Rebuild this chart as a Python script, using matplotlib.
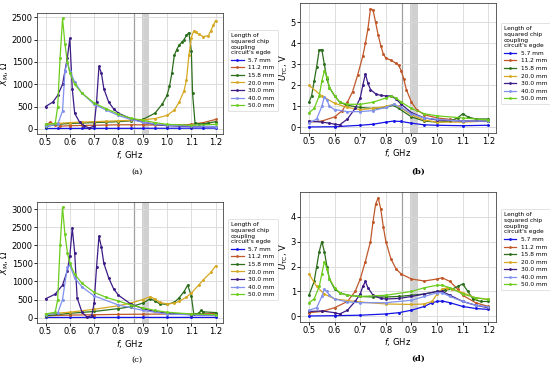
import matplotlib
matplotlib.use("Agg")
import matplotlib.pyplot as plt

# legend labels and colours
LABELS = ["5.7 mm", "11.2 mm", "15.8 mm", "20.0 mm", "30.0 mm", "40.0 mm", "50.0 mm"]
COLORS = ["#1414e6", "#c0582a", "#2c6e1c", "#d6a822", "#3c1c86", "#8090ee", "#6ccc1e"]
XTICKS = [0.5, 0.6, 0.7, 0.8, 0.9, 1.0, 1.1, 1.2]

# ---- panel (a): X_M, Ohm ----  (f in GHz, value)
A_57 = [(0.50, 8), (0.55, 8), (0.60, 9), (0.65, 9), (0.70, 10), (0.75, 10), (0.80, 10), (0.85, 11),
        (0.90, 11), (0.95, 12), (1.00, 12), (1.05, 13), (1.10, 14), (1.15, 15), (1.20, 16)]
A_112 = [(0.50, 80), (0.52, 150), (0.54, 80), (0.56, 60), (0.60, 70), (0.65, 75), (0.70, 80), (0.75, 85),
         (0.80, 90), (0.85, 90), (0.90, 90), (0.95, 85), (1.00, 80), (1.05, 85), (1.10, 100), (1.15, 140),
         (1.20, 210)]
A_158 = [(0.50, 50), (0.55, 100), (0.60, 120), (0.65, 130), (0.70, 140), (0.75, 150), (0.80, 160),
         (0.85, 180), (0.90, 210), (0.95, 350), (0.98, 550), (1.00, 750), (1.01, 950), (1.02, 1250),
         (1.03, 1650), (1.04, 1780), (1.05, 1880), (1.06, 1940), (1.07, 2000), (1.08, 2100), (1.09, 2160),
         (1.10, 1750), (1.105, 800), (1.115, 140), (1.13, 110), (1.15, 110), (1.17, 130), (1.20, 160)]
A_200 = [(0.50, 100), (0.55, 120), (0.60, 140), (0.65, 150), (0.70, 160), (0.75, 170), (0.80, 180),
         (0.85, 190), (0.90, 200), (0.95, 230), (1.00, 300), (1.03, 420), (1.05, 600), (1.07, 850),
         (1.08, 1100), (1.09, 1650), (1.10, 2050), (1.11, 2200), (1.12, 2180), (1.13, 2120), (1.15, 2070),
         (1.17, 2090), (1.18, 2200), (1.19, 2320), (1.20, 2430)]
A_300 = [(0.50, 500), (0.53, 600), (0.55, 750), (0.57, 1000), (0.58, 1300), (0.59, 1600), (0.60, 2030),
         (0.61, 900), (0.62, 350), (0.64, 150), (0.66, 60), (0.68, 20), (0.70, 60), (0.71, 600),
         (0.72, 1400), (0.73, 1250), (0.74, 900), (0.76, 600), (0.78, 450), (0.80, 350), (0.85, 230),
         (0.90, 150), (0.95, 100), (1.00, 70), (1.10, 50), (1.20, 50)]
A_400 = [(0.50, 60), (0.55, 100), (0.57, 400), (0.58, 1300), (0.59, 1500), (0.60, 1300), (0.62, 1050),
         (0.65, 800), (0.70, 550), (0.75, 420), (0.80, 300), (0.85, 210), (0.90, 150), (0.95, 110),
         (1.00, 80), (1.10, 60), (1.20, 50)]
A_500 = [(0.50, 100), (0.54, 120), (0.55, 500), (0.56, 1600), (0.57, 2480), (0.58, 1900), (0.59, 1500),
         (0.60, 1250), (0.62, 1000), (0.65, 800), (0.70, 580), (0.75, 450), (0.80, 330), (0.85, 240),
         (0.90, 190), (0.95, 140), (1.00, 100), (1.10, 80), (1.20, 100)]

# ---- panel (b): U_TC, V ----
B_57 = [(0.50, 0.02), (0.60, 0.03), (0.70, 0.10), (0.75, 0.15), (0.80, 0.25), (0.83, 0.30), (0.86, 0.28),
        (0.90, 0.20), (0.95, 0.12), (1.00, 0.10), (1.10, 0.08), (1.20, 0.10)]
B_112 = [(0.50, 0.25), (0.55, 0.30), (0.60, 0.50), (0.63, 0.80), (0.65, 1.20), (0.67, 1.70), (0.69, 2.50),
         (0.71, 3.40), (0.72, 4.00), (0.73, 4.70), (0.74, 5.65), (0.75, 5.60), (0.76, 5.00), (0.77, 4.40),
         (0.78, 3.90), (0.79, 3.50), (0.80, 3.30), (0.82, 3.20), (0.84, 3.05), (0.85, 2.95), (0.86, 2.70),
         (0.87, 2.30), (0.88, 1.80), (0.90, 1.20), (0.92, 0.85), (0.95, 0.60), (1.00, 0.45), (1.05, 0.38),
         (1.10, 0.30), (1.20, 0.28)]
B_158 = [(0.50, 1.20), (0.51, 1.50), (0.52, 2.20), (0.53, 2.90), (0.54, 3.70), (0.55, 3.70), (0.56, 3.00),
         (0.57, 2.30), (0.58, 1.90), (0.60, 1.50), (0.62, 1.20), (0.65, 1.05), (0.70, 0.95), (0.75, 0.90),
         (0.80, 0.95), (0.83, 1.05), (0.85, 0.90), (0.90, 0.50), (0.95, 0.30), (1.00, 0.25), (1.05, 0.30),
         (1.08, 0.45), (1.10, 0.65), (1.12, 0.50), (1.15, 0.40), (1.20, 0.40)]
B_200 = [(0.50, 2.00), (0.55, 1.50), (0.60, 1.15), (0.65, 0.95), (0.70, 0.85), (0.75, 0.90), (0.80, 1.00),
         (0.83, 1.10), (0.85, 1.00), (0.90, 0.60), (0.95, 0.35), (1.00, 0.25), (1.10, 0.25), (1.20, 0.30)]
B_300 = [(0.50, 0.30), (0.55, 0.25), (0.58, 0.20), (0.60, 0.15), (0.62, 0.12), (0.65, 0.40), (0.68, 0.90),
         (0.70, 1.40), (0.71, 2.00), (0.72, 2.55), (0.73, 2.10), (0.74, 1.80), (0.76, 1.60), (0.78, 1.52),
         (0.80, 1.50), (0.82, 1.50), (0.84, 1.35), (0.86, 1.10), (0.90, 0.70), (0.95, 0.45), (1.00, 0.35),
         (1.10, 0.30), (1.20, 0.30)]
B_400 = [(0.50, 0.20), (0.53, 0.40), (0.55, 1.00), (0.56, 1.45), (0.57, 1.30), (0.58, 1.00), (0.60, 0.85),
         (0.65, 0.75), (0.70, 0.75), (0.75, 0.80), (0.80, 0.95), (0.83, 1.10), (0.86, 0.95), (0.90, 0.65),
         (0.95, 0.45), (1.00, 0.38), (1.10, 0.30), (1.20, 0.30)]
B_500 = [(0.50, 0.70), (0.52, 0.90), (0.54, 1.50), (0.55, 2.20), (0.56, 2.70), (0.57, 2.40), (0.58, 1.90),
         (0.60, 1.50), (0.62, 1.20), (0.65, 1.10), (0.70, 1.10), (0.75, 1.20), (0.80, 1.40), (0.82, 1.50),
         (0.84, 1.40), (0.86, 1.20), (0.90, 0.90), (0.95, 0.65), (1.00, 0.55), (1.10, 0.45), (1.20, 0.35)]

# ---- panel (c): X_M, Ohm ----
C_57 = [(0.50, 5), (0.60, 5), (0.70, 5), (0.80, 6), (0.90, 6), (1.00, 6), (1.10, 7), (1.20, 7)]
C_112 = [(0.50, 50), (0.60, 70), (0.70, 80), (0.80, 90), (0.90, 95), (1.00, 100), (1.10, 105), (1.20, 110)]
C_158 = [(0.50, 50), (0.60, 120), (0.70, 170), (0.80, 250), (0.85, 300), (0.90, 400), (0.93, 520),
         (0.95, 470), (0.97, 380), (1.00, 370), (1.03, 420), (1.05, 550), (1.07, 720), (1.085, 900),
         (1.10, 600), (1.11, 100), (1.13, 120), (1.14, 200), (1.15, 160), (1.20, 140)]
C_200 = [(0.50, 100), (0.60, 150), (0.70, 230), (0.80, 330), (0.85, 400), (0.90, 500), (0.93, 580),
         (0.95, 520), (0.97, 420), (1.00, 380), (1.03, 400), (1.05, 450), (1.08, 570), (1.10, 680),
         (1.13, 900), (1.15, 1050), (1.18, 1250), (1.20, 1430)]
C_300 = [(0.50, 520), (0.54, 650), (0.57, 900), (0.59, 1300), (0.60, 1700), (0.61, 2480), (0.62, 1800),
         (0.63, 550), (0.65, 150), (0.67, 20), (0.69, 50), (0.70, 400), (0.71, 1400), (0.72, 2250),
         (0.73, 1950), (0.74, 1500), (0.76, 1100), (0.78, 800), (0.80, 620), (0.85, 380), (0.90, 250),
         (0.95, 170), (1.00, 120), (1.10, 80), (1.20, 60)]
C_400 = [(0.50, 80), (0.55, 120), (0.57, 500), (0.59, 1400), (0.60, 1450), (0.62, 1100), (0.65, 850),
         (0.70, 600), (0.80, 350), (0.90, 200), (1.00, 100), (1.20, 60)]
C_500 = [(0.50, 100), (0.54, 150), (0.55, 500), (0.56, 2000), (0.57, 3050), (0.58, 2300), (0.59, 1800),
         (0.60, 1500), (0.62, 1200), (0.65, 950), (0.70, 700), (0.75, 560), (0.80, 460), (0.85, 350),
         (0.90, 270), (0.95, 200), (1.00, 150), (1.10, 100), (1.20, 80)]

# ---- panel (d): U_TC, V ----
D_57 = [(0.50, 0.02), (0.60, 0.03), (0.70, 0.05), (0.80, 0.10), (0.85, 0.15), (0.90, 0.25), (0.95, 0.40),
        (0.98, 0.55), (1.00, 0.60), (1.02, 0.62), (1.05, 0.55), (1.10, 0.40), (1.15, 0.32), (1.20, 0.28)]
D_112 = [(0.50, 0.15), (0.55, 0.20), (0.60, 0.35), (0.65, 0.60), (0.68, 1.00), (0.70, 1.50), (0.72, 2.20),
         (0.74, 3.00), (0.75, 3.80), (0.76, 4.50), (0.77, 4.75), (0.78, 4.30), (0.79, 3.60), (0.80, 3.00),
         (0.82, 2.30), (0.84, 1.90), (0.86, 1.70), (0.90, 1.50), (0.95, 1.42), (1.00, 1.50), (1.02, 1.55),
         (1.05, 1.40), (1.08, 1.10), (1.10, 0.85), (1.15, 0.55), (1.20, 0.40)]
D_158 = [(0.50, 0.85), (0.52, 1.40), (0.53, 2.00), (0.54, 2.60), (0.55, 3.00), (0.56, 2.60), (0.57, 2.00),
         (0.58, 1.50), (0.60, 1.10), (0.62, 0.95), (0.65, 0.85), (0.70, 0.80), (0.75, 0.78), (0.80, 0.78),
         (0.85, 0.80), (0.90, 0.85), (0.95, 0.90), (1.00, 1.00), (1.03, 1.05), (1.06, 1.10), (1.08, 1.20),
         (1.10, 1.30), (1.12, 1.00), (1.14, 0.70), (1.17, 0.60), (1.20, 0.60)]
D_200 = [(0.50, 1.70), (0.53, 1.20), (0.56, 0.90), (0.60, 0.70), (0.70, 0.58), (0.80, 0.50), (0.90, 0.48),
         (0.95, 0.50), (0.98, 0.60), (1.00, 0.90), (1.02, 1.10), (1.04, 1.15), (1.06, 1.10), (1.10, 0.95),
         (1.15, 0.75), (1.20, 0.68)]
D_300 = [(0.50, 0.20), (0.55, 0.22), (0.60, 0.15), (0.62, 0.10), (0.65, 0.25), (0.68, 0.60), (0.70, 0.90),
         (0.71, 1.20), (0.72, 1.40), (0.73, 1.15), (0.75, 0.85), (0.78, 0.72), (0.80, 0.70), (0.85, 0.72),
         (0.90, 0.80), (0.95, 0.90), (1.00, 1.00), (1.02, 1.00), (1.05, 0.85), (1.10, 0.60), (1.15, 0.45),
         (1.20, 0.35)]
D_400 = [(0.50, 0.25), (0.53, 0.35), (0.55, 0.80), (0.56, 1.10), (0.57, 1.00), (0.58, 0.85), (0.60, 0.70),
         (0.65, 0.58), (0.70, 0.55), (0.80, 0.55), (0.90, 0.65), (0.95, 0.80), (1.00, 0.95), (1.02, 0.95),
         (1.05, 0.80), (1.10, 0.60), (1.15, 0.45), (1.20, 0.38)]
D_500 = [(0.50, 0.55), (0.52, 0.70), (0.54, 1.20), (0.55, 1.70), (0.56, 2.20), (0.57, 1.90), (0.58, 1.50),
         (0.60, 1.15), (0.62, 0.95), (0.65, 0.85), (0.70, 0.80), (0.80, 0.85), (0.90, 1.00), (0.95, 1.15),
         (1.00, 1.25), (1.02, 1.25), (1.05, 1.15), (1.10, 0.90), (1.15, 0.75), (1.20, 0.68)]

XM_LABEL = r"$X_\mathrm{M}$, Ω"
U_LABEL = r"$U_\mathrm{TC}$, V"
LEGEND_TITLE = "Length of\nsquared chip\ncoupling\ncircuit's egde"


def draw_panel(ax, series, ylabel, yticks):
    ax.axvline(0.863, color="#a0a0a0", lw=0.9, zorder=1)
    ax.axvspan(0.896, 0.924, color="#d0d0d0", lw=0, zorder=1)
    for pts, lab, col in zip(series, LABELS, COLORS):
        f = [p[0] for p in pts]
        v = [p[1] for p in pts]
        ax.plot(f, v, color=col, lw=0.9, marker=".", ms=2.2, label=lab, zorder=3)
    ax.set_xticks(XTICKS)
    ax.set_yticks(yticks)
    ax.set_xlim(0.465, 1.23)
    ax.grid(True, color="#d8d8d8", lw=0.6)
    ax.tick_params(labelsize=6, length=2, width=0.6, pad=1)
    ax.set_xlabel(r"$f$, GHz", fontsize=6, labelpad=1)
    ax.set_ylabel(ylabel, fontsize=6, labelpad=0.5)
    for s in ax.spines.values():
        s.set_linewidth(0.6)
        s.set_color("#444444")


fig = plt.figure(figsize=(5.5, 3.67), dpi=100)

ax_a = fig.add_axes([0.0673, 0.635, 0.338, 0.33])
ax_b = fig.add_axes([0.5455, 0.638, 0.3564, 0.354])
ax_c = fig.add_axes([0.0673, 0.12, 0.338, 0.33])
ax_d = fig.add_axes([0.5455, 0.123, 0.3564, 0.354])

draw_panel(ax_a, [A_57, A_112, A_158, A_200, A_300, A_400, A_500], XM_LABEL, [0, 500, 1000, 1500, 2000, 2500])
draw_panel(ax_b, [B_57, B_112, B_158, B_200, B_300, B_400, B_500], U_LABEL, [0, 1, 2, 3, 4, 5])
draw_panel(ax_c, [C_57, C_112, C_158, C_200, C_300, C_400, C_500], XM_LABEL, [0, 500, 1000, 1500, 2000, 2500, 3000])
draw_panel(ax_d, [D_57, D_112, D_158, D_200, D_300, D_400, D_500], U_LABEL, [0, 1, 2, 3, 4])

# legends sit to the right of each axes
for ax, anchor in [(ax_a, (0.409, 0.926)), (ax_b, (0.905, 0.945)),
                   (ax_c, (0.409, 0.411)), (ax_d, (0.905, 0.438))]:
    leg = ax.legend(title=LEGEND_TITLE, loc="upper left", bbox_to_anchor=anchor,
                    bbox_transform=fig.transFigure, fontsize=4.2, title_fontsize=4.2,
                    handlelength=2.2, labelspacing=0.42, borderpad=0.5, markerscale=0.9,
                    frameon=True, fancybox=True, framealpha=1)
    leg.get_frame().set_linewidth(0.4)
    leg.get_title().set_ha("left")
    leg._legend_box.align = "left"

# sub-figure captions
fig.text(0.249, 0.531, "(a)", ha="center", va="center", fontsize=6, family="DejaVu Serif")
fig.text(0.760, 0.531, "(b)", ha="center", va="center", fontsize=6, family="DejaVu Serif", weight="bold")
fig.text(0.249, 0.019, "(c)", ha="center", va="center", fontsize=6, family="DejaVu Serif")
fig.text(0.760, 0.022, "(d)", ha="center", va="center", fontsize=6, family="DejaVu Serif", weight="bold")

fig.savefig("out.png", dpi=100)
